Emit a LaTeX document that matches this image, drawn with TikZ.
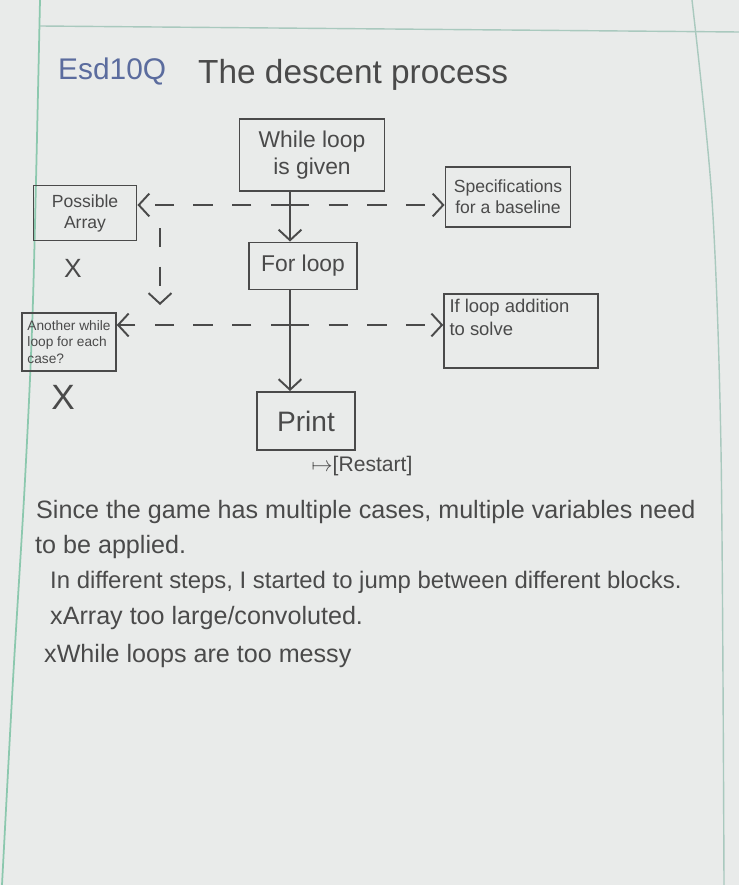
\documentclass[tikz,border=0pt]{standalone}
\usepackage{fontspec}
\setmainfont{Liberation Sans}
\usetikzlibrary{arrows.meta, positioning}

\definecolor{paper}{HTML}{E9EBEA}
\definecolor{pencil}{HTML}{4A4A4A}
\definecolor{inkblue}{HTML}{5B6C9E}
\definecolor{marginline}{HTML}{8CC8AE}
\definecolor{ruleline}{HTML}{A9C9BE}

\tikzset{
    block/.style={draw=pencil, line width=1.1pt, text=pencil, align=center, inner sep=3pt},
    flow/.style={draw=pencil, line width=1.1pt, -{Straight Barb[length=6pt, width=13pt]}},
    branch/.style={flow, dash pattern=on 11pt off 11pt},
    note/.style={text=pencil, anchor=west, font=\fontsize{14.3}{16}\selectfont},
    cross/.style={text=pencil, font=\fontsize{15}{17}\selectfont},
}

\begin{document}
\begin{tikzpicture}[x=0.02cm, y=-0.02cm]
    % Notebook page
    \fill[paper] (0,0) rectangle (739,885);
    \useasboundingbox (0,0) rectangle (739,885);
    \draw[marginline, line width=1pt] plot[smooth] coordinates {(40,0) (33,300) (25,480) (13,680) (2,885)};
    \draw[ruleline, line width=0.8pt] (40,26) -- (739,32);
    \draw[ruleline, line width=0.8pt] plot[smooth] coordinates {(692,0) (712,200) (721,450) (724,885)};

    % Title
    \node[text=inkblue, anchor=west, font=\fontsize{17}{20}\selectfont] (tag) at (52,72) {Esd10Q};
    \node[text=pencil, anchor=west, font=\fontsize{19}{22}\selectfont] (title) at (192,75) {The descent process};

    % Main chain
    \node[block, minimum width=2.9cm, minimum height=1.44cm, font=\fontsize{13}{15}\selectfont] (while) at (312,155) {While loop\\is given};
    \node[block, minimum width=2.16cm, minimum height=0.94cm, font=\fontsize{13}{15}\selectfont] (forloop) at (303,266) {For loop};
    \node[block, minimum width=1.96cm, minimum height=1.16cm, font=\fontsize{16}{18}\selectfont] (print) at (306,421) {Print};
    \node[text=pencil, font=\fontsize{12}{14}\selectfont] (restart) at (362,466) {$\mapsto$[Restart]};

    % Side options
    \node[block, minimum width=2.06cm, minimum height=1.1cm, font=\fontsize{10}{12}\selectfont] (possible) at (85,213) {Possible\\Array};
    \node[cross] (cross1) at (73,268) {X};
    \node[block, minimum width=2.5cm, minimum height=1.2cm, font=\fontsize{10}{12}\selectfont] (spec) at (508,197) {Specifications\\for a baseline};
    \node[block, minimum width=1.8cm, minimum height=1.16cm, font=\fontsize{7.8}{9.5}\selectfont, align=left] (another) at (69,342) {Another while\\loop for each\\case?};
    \node[cross, font=\fontsize{20}{22}\selectfont] (cross2) at (63,397) {X};
    \node[block, align=left, font=\fontsize{10.5}{13}\selectfont] (ifloop) at (521,331)
        {\parbox[c][1.26cm][t]{2.86cm}{If loop addition\\to solve}};

    % Connectors
    \coordinate (trunk1) at (290,205);
    \coordinate (trunk2) at (290,325);
    \coordinate (drop1) at (160,228);
    \coordinate (drop2) at (160,305);
    \draw[flow] (while.south -| trunk1) -- (forloop.north -| trunk1);
    \draw[flow] (forloop.south -| trunk2) -- (print.north -| trunk2);
    \draw[branch] (trunk1) -- (possible.east |- trunk1);
    \draw[branch] (trunk1) -- (spec.west |- trunk1);
    \draw[branch] (drop1) -- (drop2);
    \draw[branch] (trunk2) -- (another.east |- trunk2);
    \draw[branch] (trunk2) -- (ifloop.west |- trunk2);

    % Notes
    \node[note] (line1) at (30,512) {Since the game has multiple cases, multiple variables need};
    \node[note] (line2) at (29,547) {to be applied.};
    \node[note, font=\fontsize{13.6}{16}\selectfont] (line3) at (44,582) {In different steps, I started to jump between different blocks.};
    \node[note] (line4) at (44,618) {xArray too large/convoluted.};
    \node[note] (line5) at (38,656) {xWhile loops are too messy};
\end{tikzpicture}
\end{document}
